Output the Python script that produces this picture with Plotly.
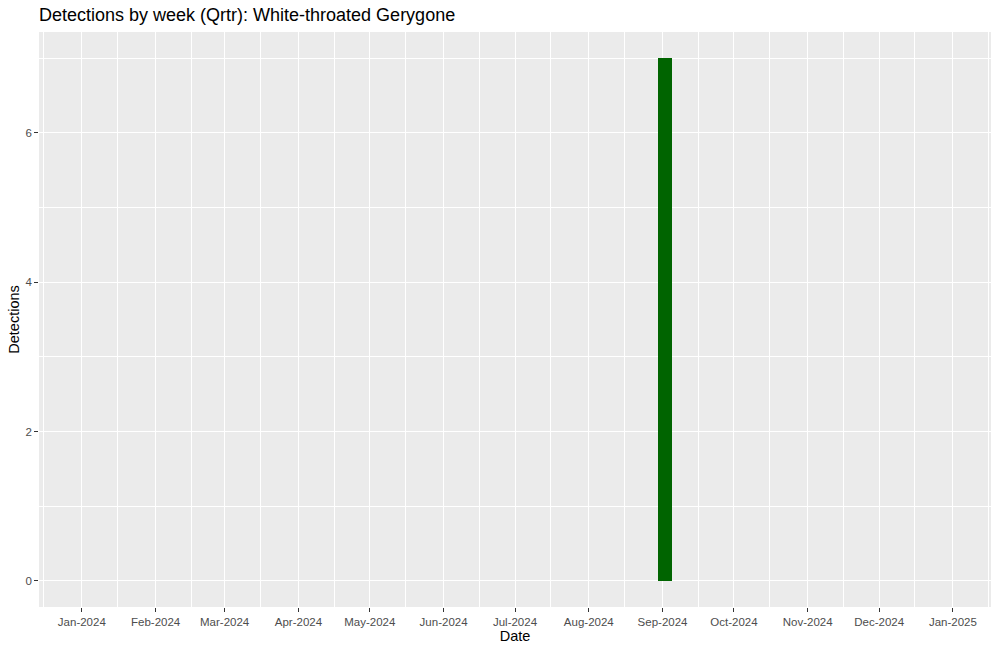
import plotly.graph_objects as go

# Data
week_dates = ["2024-09-02"]
detections = [7]
bar_width_days = 6.2

title_text = "Detections by week (Qrtr): White-throated Gerygone"
x_title = "Date"
y_title = "Detections"

DAY_MS = 24 * 3600 * 1000

fig = go.Figure()
fig.add_trace(go.Bar(
    x=week_dates,
    y=detections,
    width=[bar_width_days * DAY_MS] * len(week_dates),
    marker=dict(color="#006400", line=dict(width=0)),
    hoverinfo="x+y",
))

font_family = "Liberation Sans, Arial, sans-serif"

fig.update_layout(
    width=1000, height=651,
    margin=dict(l=39, r=9, t=32, b=44, autoexpand=False),
    paper_bgcolor="white",
    plot_bgcolor="#EBEBEB",
    font=dict(family=font_family, color="black"),
    showlegend=False,
    bargap=0,
    title=dict(text=title_text, x=39/1000, xanchor="left", y=1-15/651, yanchor="middle",
               font=dict(size=18, color="black", family=font_family)),
)

fig.update_xaxes(
    type="date",
    range=["2023-12-14", "2025-01-17"],
    tick0="2024-01-01", dtick="M1",
    tickformat="%b-%Y",
    ticks="outside", ticklen=3.7, tickwidth=1.1, tickcolor="#333333",
    tickfont=dict(size=11.5, color="#4D4D4D"),
    showgrid=True, gridcolor="white", gridwidth=1.1,
    minor=dict(tick0="2023-12-16", dtick="M1", showgrid=True, gridcolor="white", gridwidth=0.5, ticks=""),
    zeroline=False, showline=False,
    title=dict(text=x_title, font=dict(size=14.5, color="black"), standoff=4),
)

fig.update_yaxes(
    range=[-0.35, 7.35],
    tick0=0, dtick=2,
    ticks="outside", ticklen=3.7, tickwidth=1.1, tickcolor="#333333",
    tickfont=dict(size=11.5, color="#4D4D4D"),
    showgrid=True, gridcolor="white", gridwidth=1.1,
    minor=dict(tick0=1, dtick=2, showgrid=True, gridcolor="white", gridwidth=0.5, ticks=""),
    zeroline=False, showline=False,
    title=dict(text=y_title, font=dict(size=14.5, color="black"), standoff=2),
)

fig.write_html("out.html", config={"displayModeBar": False},
               post_script="document.body.style.margin='0';")
